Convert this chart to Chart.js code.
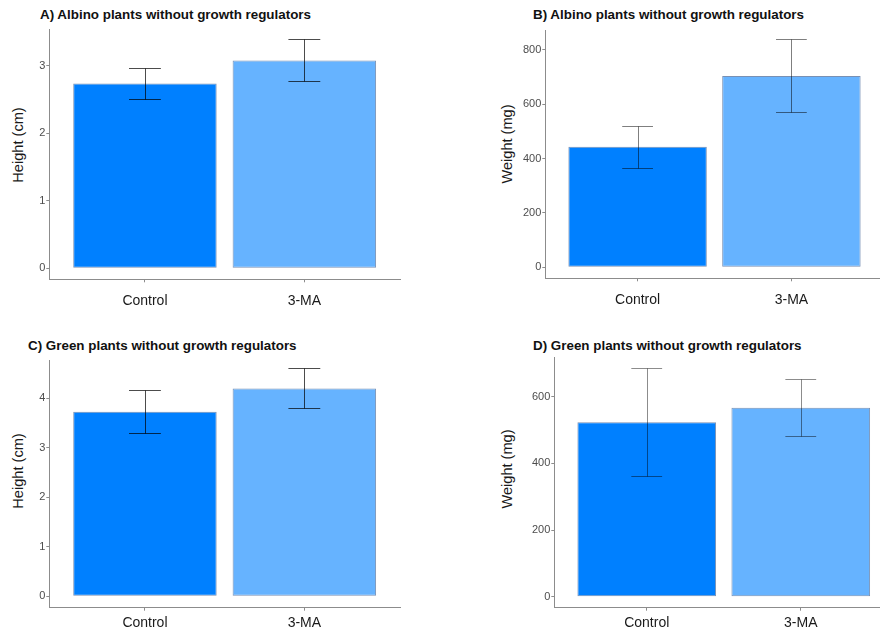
<!DOCTYPE html>
<html>
<head>
<meta charset="utf-8">
<script src="https://cdn.jsdelivr.net/npm/chart.js@4.4.1/dist/chart.umd.min.js"></script>
<style>
  html, body { margin: 0; padding: 0; background: #fff; overflow: hidden; }
  #page { position: relative; width: 880px; height: 632px; overflow: hidden; font-family: 'Liberation Sans', Arial, sans-serif; }
  .panel { position: absolute; }
  .ptitle { position: absolute; font-weight: bold; font-size: 13.4px; line-height: 16px; color: #111; white-space: nowrap; }
  .ytitle { position: absolute; font-size: 14.6px; line-height: 18px; color: #1a1a1a; white-space: nowrap; transform: translate(-50%, -50%) rotate(-90deg); }
</style>
</head>
<body>
<div id="page">
  <div class="ptitle" style="left:40px; top:7px;">A) Albino plants without growth regulators</div>
  <div class="ptitle" style="left:533px; top:7px;">B) Albino plants without growth regulators</div>
  <div class="ptitle" style="left:28px; top:338px;">C) Green plants without growth regulators</div>
  <div class="ptitle" style="left:533px; top:338px;">D) Green plants without growth regulators</div>
  <div class="ytitle" style="left:18px; top:145px;">Height (cm)</div>
  <div class="ytitle" style="left:507px; top:144px;">Weight (mg)</div>
  <div class="ytitle" style="left:18px; top:471px;">Height (cm)</div>
  <div class="ytitle" style="left:507px; top:469px;">Weight (mg)</div>
  <canvas class="panel" id="chartA" width="420" height="300" style="left:0; top:20px;"></canvas>
  <canvas class="panel" id="chartB" width="444" height="300" style="left:440px; top:20px;"></canvas>
  <canvas class="panel" id="chartC" width="420" height="280" style="left:0; top:352px;"></canvas>
  <canvas class="panel" id="chartD" width="454" height="282" style="left:440px; top:350px;"></canvas>
</div>
<script>
// data
var categories = ['Control', '3-MA'];

var heightAlbino = [2.74, 3.08];
var heightAlbinoLow = [2.51, 2.77];
var heightAlbinoHigh = [2.97, 3.40];

var weightAlbino = [444, 704];
var weightAlbinoLow = [367, 571];
var weightAlbinoHigh = [519, 840];

var heightGreen = [3.73, 4.20];
var heightGreenLow = [3.29, 3.81];
var heightGreenHigh = [4.16, 4.61];

var weightGreen = [523, 567];
var weightGreenLow = [361, 483];
var weightGreenHigh = [685, 652];

var ticksHeightAlbino = [0, 1, 2, 3];
var ticksWeightAlbino = [0, 200, 400, 600, 800];
var ticksHeightGreen = [0, 1, 2, 3, 4];
var ticksWeightGreen = [0, 200, 400, 600];

(function () {
  'use strict';

  var BAR_COLORS = ['#0080ff', '#66b3ff'];
  var AXIS_COLOR = '#8c8c8c';
  Chart.defaults.font.family = "'Liberation Sans', Arial, sans-serif";

  var errorBarPlugin = {
    id: 'errorBars',
    afterDatasetsDraw: function (chart, args, opts) {
      var xs = chart.scales.x;
      var ys = chart.scales.y;
      var ctx = chart.ctx;
      ctx.save();
      ctx.strokeStyle = opts.color;
      ctx.lineWidth = 1;
      opts.low.forEach(function (lo, i) {
        var xc = Math.round(xs.getPixelForValue(i + 1)) + 0.5;
        var xl = xs.getPixelForValue(i + 1 - opts.cap);
        var xr = xs.getPixelForValue(i + 1 + opts.cap);
        var yl = Math.round(ys.getPixelForValue(lo)) + 0.5;
        var yh = Math.round(ys.getPixelForValue(opts.high[i])) + 0.5;
        ctx.beginPath();
        ctx.moveTo(xc, yl);
        ctx.lineTo(xc, yh);
        ctx.moveTo(xl, yh);
        ctx.lineTo(xr, yh);
        ctx.moveTo(xl, yl);
        ctx.lineTo(xr, yl);
        ctx.stroke();
      });
      ctx.restore();
    }
  };

  function makePanel(id, p) {
    var ctx = document.getElementById(id).getContext('2d');
    return new Chart(ctx, {
      type: 'bar',
      plugins: [errorBarPlugin],
      data: {
        datasets: [{
          data: p.values.map(function (v, i) { return { x: i + 1, y: v }; }),
          backgroundColor: BAR_COLORS,
          borderColor: 'rgba(30, 70, 130, 0.6)',
          borderWidth: 1,
          borderSkipped: false,
          categoryPercentage: 1,
          barPercentage: 0.9
        }]
      },
      options: {
        responsive: false,
        animation: false,
        devicePixelRatio: 1,
        layout: { padding: { top: p.padTop, right: p.padRight, left: 0, bottom: 0 } },
        plugins: {
          legend: { display: false },
          tooltip: { enabled: false },
          errorBars: { low: p.low, high: p.high, cap: 0.1, color: p.errColor }
        },
        scales: {
          x: {
            type: 'linear',
            min: 0.4,
            max: 2.6,
            offset: false,
            afterBuildTicks: function (s) {
              s.ticks = categories.map(function (c, i) { return { value: i + 1 }; });
            },
            afterFit: function (s) { s.height = p.xHeight; },
            grid: { display: true, drawOnChartArea: false, drawTicks: true, tickLength: 3, color: AXIS_COLOR, offset: false },
            border: { display: true, color: AXIS_COLOR, width: 1 },
            ticks: {
              padding: p.xPad,
              color: '#1a1a1a',
              font: { size: 14 },
              maxRotation: 0,
              autoSkip: false,
              callback: function (v) { return categories[v - 1] || ''; }
            }
          },
          y: {
            min: p.yMin,
            max: p.yMax,
            afterBuildTicks: function (s) {
              s.ticks = p.ticks.map(function (v) { return { value: v }; });
            },
            afterFit: function (s) { s.width = p.yWidth; },
            grid: { display: true, drawOnChartArea: false, drawTicks: true, tickLength: 3, color: AXIS_COLOR },
            border: { display: true, color: AXIS_COLOR, width: 1 },
            ticks: {
              padding: 1,
              color: '#4d4d4d',
              font: { size: 11 },
              callback: function (v) { return String(v); }
            }
          }
        }
      }
    });
  }

  makePanel('chartA', {
    values: heightAlbino, low: heightAlbinoLow, high: heightAlbinoHigh, ticks: ticksHeightAlbino,
    yMin: -0.163, yMax: 3.544, yWidth: 49.3, xHeight: 40.7, padTop: 9.3, padRight: 20, xPad: 10,
    errColor: 'rgba(0, 0, 0, 0.7)'
  });
  makePanel('chartB', {
    values: weightAlbino, low: weightAlbinoLow, high: weightAlbinoHigh, ticks: ticksWeightAlbino,
    yMin: -40.5, yMax: 871, yWidth: 105.3, xHeight: 41.7, padTop: 10.7, padRight: 0.3, xPad: 10,
    errColor: 'rgba(0, 0, 0, 0.5)'
  });
  makePanel('chartC', {
    values: heightGreen, low: heightGreenLow, high: heightGreenHigh, ticks: ticksHeightGreen,
    yMin: -0.23, yMax: 4.76, yWidth: 49.3, xHeight: 24.3, padTop: 8.7, padRight: 20, xPad: 4.5,
    errColor: 'rgba(0, 0, 0, 0.7)'
  });
  makePanel('chartD', {
    values: weightGreen, low: weightGreenLow, high: weightGreenHigh, ticks: ticksWeightGreen,
    yMin: -33, yMax: 717, yWidth: 114.3, xHeight: 24.3, padTop: 7.7, padRight: 0.8, xPad: 4.5,
    errColor: 'rgba(0, 0, 0, 0.45)'
  });
})();
</script>
</body>
</html>
